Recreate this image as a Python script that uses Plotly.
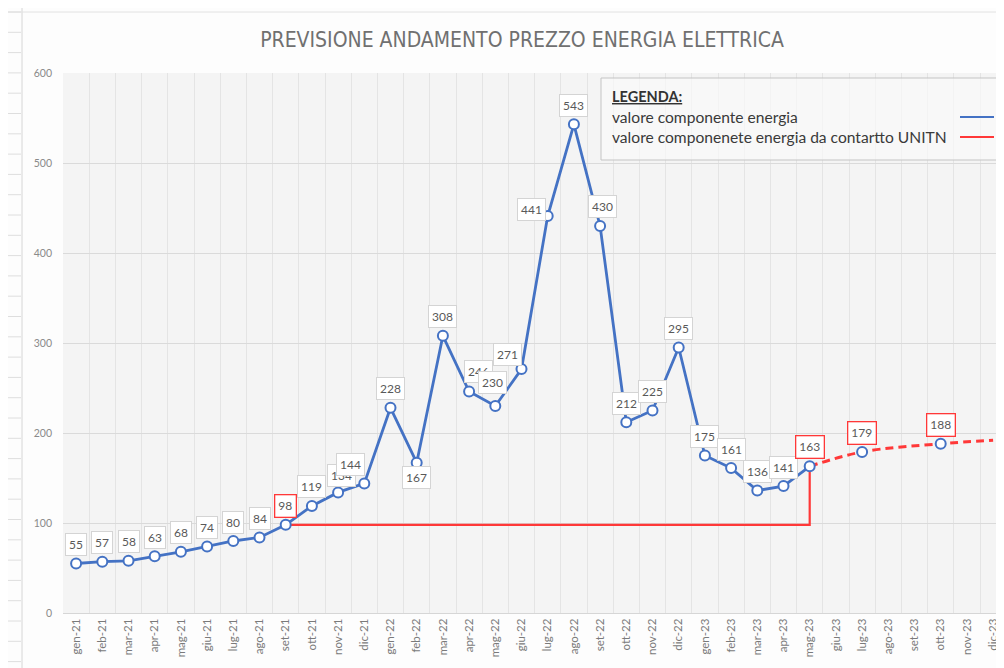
import plotly.graph_objects as go

# ---------------- data ----------------
months = ["gen-21", "feb-21", "mar-21", "apr-21", "mag-21", "giu-21", "lug-21", "ago-21",
          "set-21", "ott-21", "nov-21", "dic-21",
          "gen-22", "feb-22", "mar-22", "apr-22", "mag-22", "giu-22", "lug-22", "ago-22",
          "set-22", "ott-22", "nov-22", "dic-22",
          "gen-23", "feb-23", "mar-23", "apr-23", "mag-23", "giu-23", "lug-23", "ago-23",
          "set-23", "ott-23", "nov-23", "dic-23"]

price_months = months[:29]
price_values = [55, 57, 58, 63, 68, 74, 80, 84, 98, 119, 134, 144,
                228, 167, 308, 246, 230, 271, 441, 543, 430, 212, 225, 295,
                175, 161, 136, 141, 163]

forecast_months = ["mag-23", "lug-23", "ott-23", "dic-23"]
forecast_values = [163, 179, 188, 192]
forecast_marker_months = ["lug-23", "ott-23"]
forecast_marker_values = [179, 188]

contract_months = ["set-21", "mag-23", "mag-23"]
contract_values = [98, 98, 163]

y_ticks = [0, 100, 200, 300, 400, 500, 600]

title_text = "PREVISIONE ANDAMENTO PREZZO ENERGIA ELETTRICA"
legend_title = "LEGENDA:"
legend_items = ["valore componente energia", "valore componenete energia da contartto UNITN"]

# ---------------- style ----------------
BLUE = "#4472C4"
RED = "#FF3838"
GREY_TXT = "#595959"
FONT = "Lato, Open Sans, sans-serif"

# page has an 8px body margin: figure starts at page (8, 8)
OFF = 8
PAGE_W, PAGE_H = 1004, 668
W, H = PAGE_W - OFF, PAGE_H - OFF
PLOT_L, PLOT_R, PLOT_T, PLOT_B = 63, 1004, 73, 613   # page pixels
ML, MR, MT, MB = PLOT_L - OFF, PAGE_W - PLOT_R, PLOT_T - OFF, PAGE_H - PLOT_B
PW, PH = PLOT_R - PLOT_L, PLOT_B - PLOT_T
SLOT = 26.2


def px_x(p):
    return (p - PLOT_L) / PW


def px_y(p):
    return (PLOT_B - p) / PH


# label offsets in pixels (dx, dy) relative to the point; default above
label_offsets = {"nov-21": (3, 17), "dic-21": (-14, 19), "feb-22": (0, -15),
                 "apr-22": (9, 20), "mag-22": (-3, 24), "giu-22": (-14, 15),
                 "lug-22": (-16, 7), "set-22": (2, 20)}
red_label_months = {"set-21", "mag-23"}

fig = go.Figure()

# contract (red solid step line)
fig.add_trace(go.Scatter(x=contract_months, y=contract_values, mode="lines",
                         line=dict(color=RED, width=2.2), hoverinfo="skip",
                         showlegend=False))
# forecast dashed red
fig.add_trace(go.Scatter(x=forecast_months, y=forecast_values, mode="lines",
                         line=dict(color=RED, width=3, dash="8px,5px", shape="spline"),
                         showlegend=False))
# main blue series
fig.add_trace(go.Scatter(x=price_months, y=price_values, mode="lines+markers",
                         line=dict(color=BLUE, width=2.8),
                         marker=dict(symbol="circle", size=10, color="white",
                                     line=dict(color=BLUE, width=2)),
                         showlegend=False))
# forecast markers
fig.add_trace(go.Scatter(x=forecast_marker_months, y=forecast_marker_values, mode="markers",
                         marker=dict(symbol="circle", size=10, color="white",
                                     line=dict(color=BLUE, width=2)),
                         showlegend=False))

annotations = []


def add_label(m, v, red):
    dx, dy = label_offsets.get(m, (0, 19))
    annotations.append(dict(
        x=m, y=v, xref="x", yref="y", text=str(v), showarrow=False,
        xshift=dx, yshift=dy,
        font=dict(family=FONT, size=12, color=GREY_TXT),
        bgcolor="white", bordercolor=RED if red else "#d4d4d4",
        borderwidth=1.3 if red else 1, borderpad=3))


for m, v in zip(price_months, price_values):
    add_label(m, v, m in red_label_months)
for m, v in zip(forecast_marker_months, forecast_marker_values):
    add_label(m, v, True)

# legend box (custom)
shapes = [
    dict(type="rect", xref="paper", yref="paper", x0=px_x(601), x1=px_x(999),
         y0=px_y(160), y1=px_y(78), line=dict(color="#c4c4c4", width=1),
         fillcolor="rgba(250,250,250,0.7)", layer="above"),
    dict(type="line", xref="paper", yref="paper", x0=px_x(960), x1=px_x(994),
         y0=px_y(117), y1=px_y(117), line=dict(color=BLUE, width=2)),
    dict(type="line", xref="paper", yref="paper", x0=px_x(960), x1=px_x(994),
         y0=px_y(137), y1=px_y(137), line=dict(color=RED, width=2)),
    # spreadsheet remnants
    dict(type="line", xref="paper", yref="paper", x0=px_x(22), x1=px_x(22),
         y0=px_y(668), y1=px_y(OFF), line=dict(color="#d6d6d6", width=1), layer="below"),
    dict(type="line", xref="paper", yref="paper", x0=px_x(OFF), x1=px_x(1004),
         y0=px_y(12), y1=px_y(12), line=dict(color="#e2e2e2", width=1), layer="below"),
]
for i in range(33):
    yy = 12 + i * 20.3
    shapes.append(dict(type="line", xref="paper", yref="paper", x0=px_x(OFF), x1=px_x(21),
                       y0=px_y(yy), y1=px_y(yy), line=dict(color="#dedede", width=1),
                       layer="below"))

annotations += [
    dict(xref="paper", yref="paper", x=px_x(610), y=px_y(96), xanchor="left",
         yanchor="middle", showarrow=False, text="<b><u>" + legend_title + "</u></b>",
         font=dict(family=FONT, size=14.5, color="#333333")),
    dict(xref="paper", yref="paper", x=px_x(610), y=px_y(117), xanchor="left",
         yanchor="middle", showarrow=False, text=legend_items[0],
         font=dict(family=FONT, size=15.6, color="#3a3a3a")),
    dict(xref="paper", yref="paper", x=px_x(610), y=px_y(137), xanchor="left",
         yanchor="middle", showarrow=False, text=legend_items[1],
         font=dict(family=FONT, size=15.6, color="#3a3a3a")),
]

fig.update_layout(
    width=W, height=H,
    margin=dict(l=ML, r=MR, t=MT, b=MB, autoexpand=False),
    paper_bgcolor="#fdfdfd", plot_bgcolor="#f4f4f4",
    title=dict(text=title_text, x=(522 - OFF) / W, xanchor="center", y=1 - (40 - OFF) / H,
               yanchor="middle",
               font=dict(family="Liberation Sans Narrow, DejaVu Sans Condensed, sans-serif",
                         size=21, color="#707070")),
    showlegend=False,
    shapes=shapes,
    annotations=annotations,
)

fig.update_xaxes(type="category", categoryorder="array", categoryarray=months,
                 tickmode="array", tickvals=months, ticktext=months,
                 range=[-0.5, -0.5 + PW / SLOT], tickangle=-90, tickson="boundaries",
                 showgrid=True, gridcolor="#e4e4e4", gridwidth=1,
                 showline=True, linecolor="#d6d6d6", ticks="",
                 tickfont=dict(family=FONT, size=11.5, color="#7a7a7a"))
fig.update_yaxes(range=[0, 600], tickvals=y_ticks, showgrid=True, gridcolor="#dadada",
                 zeroline=False, showline=False, ticks="", ticklabelstandoff=10,
                 tickfont=dict(family=FONT, size=10.5, color="#8a8a8a"))

fig.write_html("out.html")
